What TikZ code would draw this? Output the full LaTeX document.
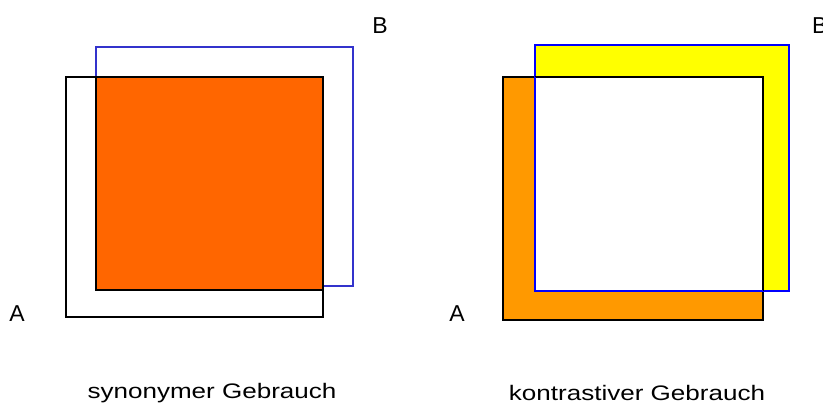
\documentclass[tikz,border=0pt]{standalone}
\usepackage{fontspec}
\setmainfont{Liberation Sans}
\definecolor{synorange}{HTML}{FF6600}
\definecolor{konorange}{HTML}{FF9900}
\definecolor{konyellow}{HTML}{FFFF00}
\definecolor{synblue}{HTML}{3333CC}
\definecolor{konblue}{HTML}{0000FF}
\tikzset{
  edgeA/.style={draw=black, line width=1.6pt},
  edgeB/.style={line width=1.4pt},
  letter/.style={inner sep=0pt, font=\fontsize{23}{23}\selectfont},
  caption/.style={inner sep=0pt, font=\fontsize{21}{21}\selectfont}
}
\begin{document}
\begin{tikzpicture}[x=1pt, y=-1pt]
  \useasboundingbox[fill=white] (0,0) rectangle (823,405);

  % --- synonymous use: overlap of A and B highlighted ---
  \draw[edgeB, draw=synblue] (96,47) rectangle (353,286);
  \draw[edgeA] (66,77) rectangle (323,317);
  \filldraw[edgeA, fill=synorange] (96,77) rectangle (323,290);

  \node[letter] (synB) at (380,26) {B};
  \node[letter] (synA) at (17,314) {A};
  \node[caption] (syncap) at (212,393) {\scalebox{1.24}[1]{synonymer Gebrauch}};

  % --- contrastive use: only the non-overlapping parts highlighted ---
  \filldraw[edgeA, fill=konorange] (503,77) rectangle (763,320);
  \filldraw[edgeB, draw=konblue, fill=konyellow] (535,45) rectangle (789,291);
  \fill[white] (535,77) rectangle (763,291);
  \draw[edgeA] (535,77) -- (763,77) -- (763,291);
  \draw[edgeB, draw=konblue] (535,77) -- (535,291) -- (763,291);

  \node[letter, anchor=west] (konB) at (812,26) {B};
  \node[letter] (konA) at (457,314) {A};
  \node[caption] (koncap) at (637,393) {\scalebox{1.24}[1]{kontrastiver Gebrauch}};
\end{tikzpicture}
\end{document}
